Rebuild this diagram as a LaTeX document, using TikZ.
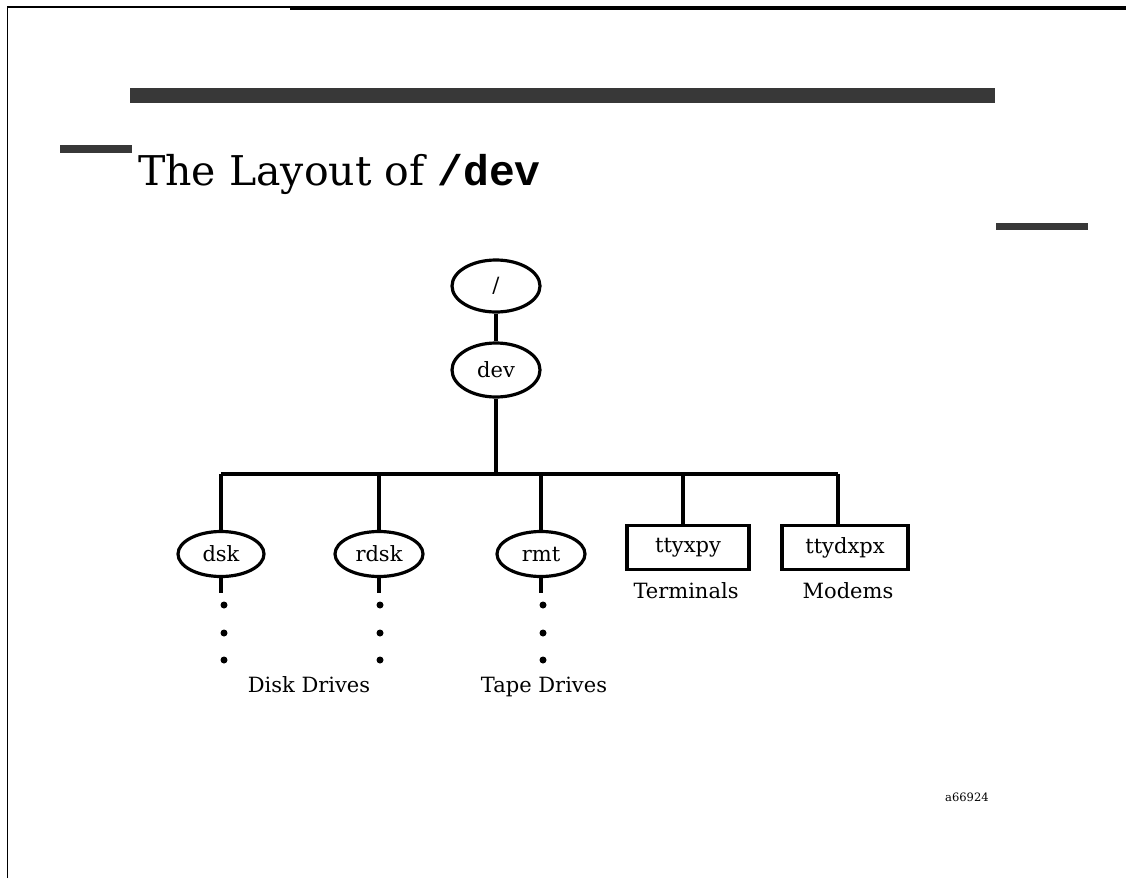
\documentclass[tikz,border=0pt]{standalone}
\usepackage{fontspec}
\setmainfont{DejaVu Serif}
\newfontfamily\codefont{Liberation Mono}
\usetikzlibrary{shapes.geometric}
\tikzset{
  labelfont/.style={font=\fontsize{21}{24}\selectfont},
  dirnode/.style={ellipse, draw, line width=3.2pt, minimum width=88pt, minimum height=52pt, inner sep=0pt, labelfont},
  smalldir/.style={dirnode, minimum width=86pt, minimum height=45pt},
  devbox/.style={rectangle, draw, line width=3.2pt, minimum width=122pt, minimum height=44pt, inner sep=0pt, labelfont},
  link/.style={line width=3.2pt},
  caption/.style={labelfont, inner sep=0pt, anchor=base},
  dotmark/.style={circle, fill=black, inner sep=0pt, minimum size=7pt},
  shadebar/.style={fill=black!78, draw=none}
}
\begin{document}
\begin{tikzpicture}[x=1pt, y=-1pt]
\useasboundingbox (0,0) rectangle (1126,878);

% page frame
\draw[line width=1.6pt] (7.5,878) -- (7.5,6.8) -- (290,6.8);
\fill (290,5.5) rectangle (1126,10);

% header bars
\fill[shadebar] (130,88) rectangle (995,103);
\fill[shadebar] (60,145) rectangle (132,152.5);
\fill[shadebar] (996,223) rectangle (1088,230);

% title
\node[anchor=base west, inner sep=0pt, font=\fontsize{41}{46}\selectfont] (title) at (138,185)
  {The Layout of {\codefont\fontsize{43}{46}\selectfont\bfseries /dev}};

% tree nodes
\node[dirnode] (root) at (496,286) {/};
\node[dirnode, minimum height=54pt] (dev) at (496,370) {dev};

\coordinate (bus) at (496,474);
\coordinate (busL) at (221,474);
\coordinate (busR) at (838,474);

\node[smalldir] (dsk) at (221,554) {dsk};
\node[smalldir, minimum width=88pt] (rdsk) at (379,554) {rdsk};
\node[smalldir, minimum width=88pt] (rmt) at (541,554) {rmt};
\node[devbox] (tty) at (688,547.5) {ttyxpy};
\node[devbox, minimum width=126pt] (ttyd) at (845,547.5) {ttydxpx};

\draw[link] (root) -- (dev);
\draw[link] (dev.south) -- (bus);
\draw[link] (busL) -- (busR);
\draw[link] (busL) -- (dsk.north);
\draw[link] (rdsk.north |- busL) -- (rdsk.north);
\draw[link] (rmt.north |- busL) -- (rmt.north);
\draw[link] (683,474) -- (683,525.5);
\draw[link] (838,474) -- (838,525.5);

% continuation marks below the directories
\coordinate (dskE) at (221,593);
\coordinate (rdskE) at (379,593);
\coordinate (rmtE) at (541,593);
\draw[link] (dsk.south) -- (dskE);
\draw[link] (rdsk.south) -- (rdskE);
\draw[link] (rmt.south) -- (rmtE);
\foreach \x/\n in {224/a,380/b,543/c}{
  \node[dotmark] (d1\n) at (\x,605) {};
  \node[dotmark] (d2\n) at (\x,633) {};
  \node[dotmark] (d3\n) at (\x,660) {};
}

% captions
\node[caption] (disk) at (309,692) {Disk Drives};
\node[caption] (tape) at (544,692) {Tape Drives};
\node[caption] (term) at (686,598) {Terminals};
\node[caption] (mod) at (848,598) {Modems};

\node[anchor=base west, inner sep=0pt, font=\fontsize{11.5}{13}\selectfont] (ref) at (945,801) {a66924};
\end{tikzpicture}
\end{document}
